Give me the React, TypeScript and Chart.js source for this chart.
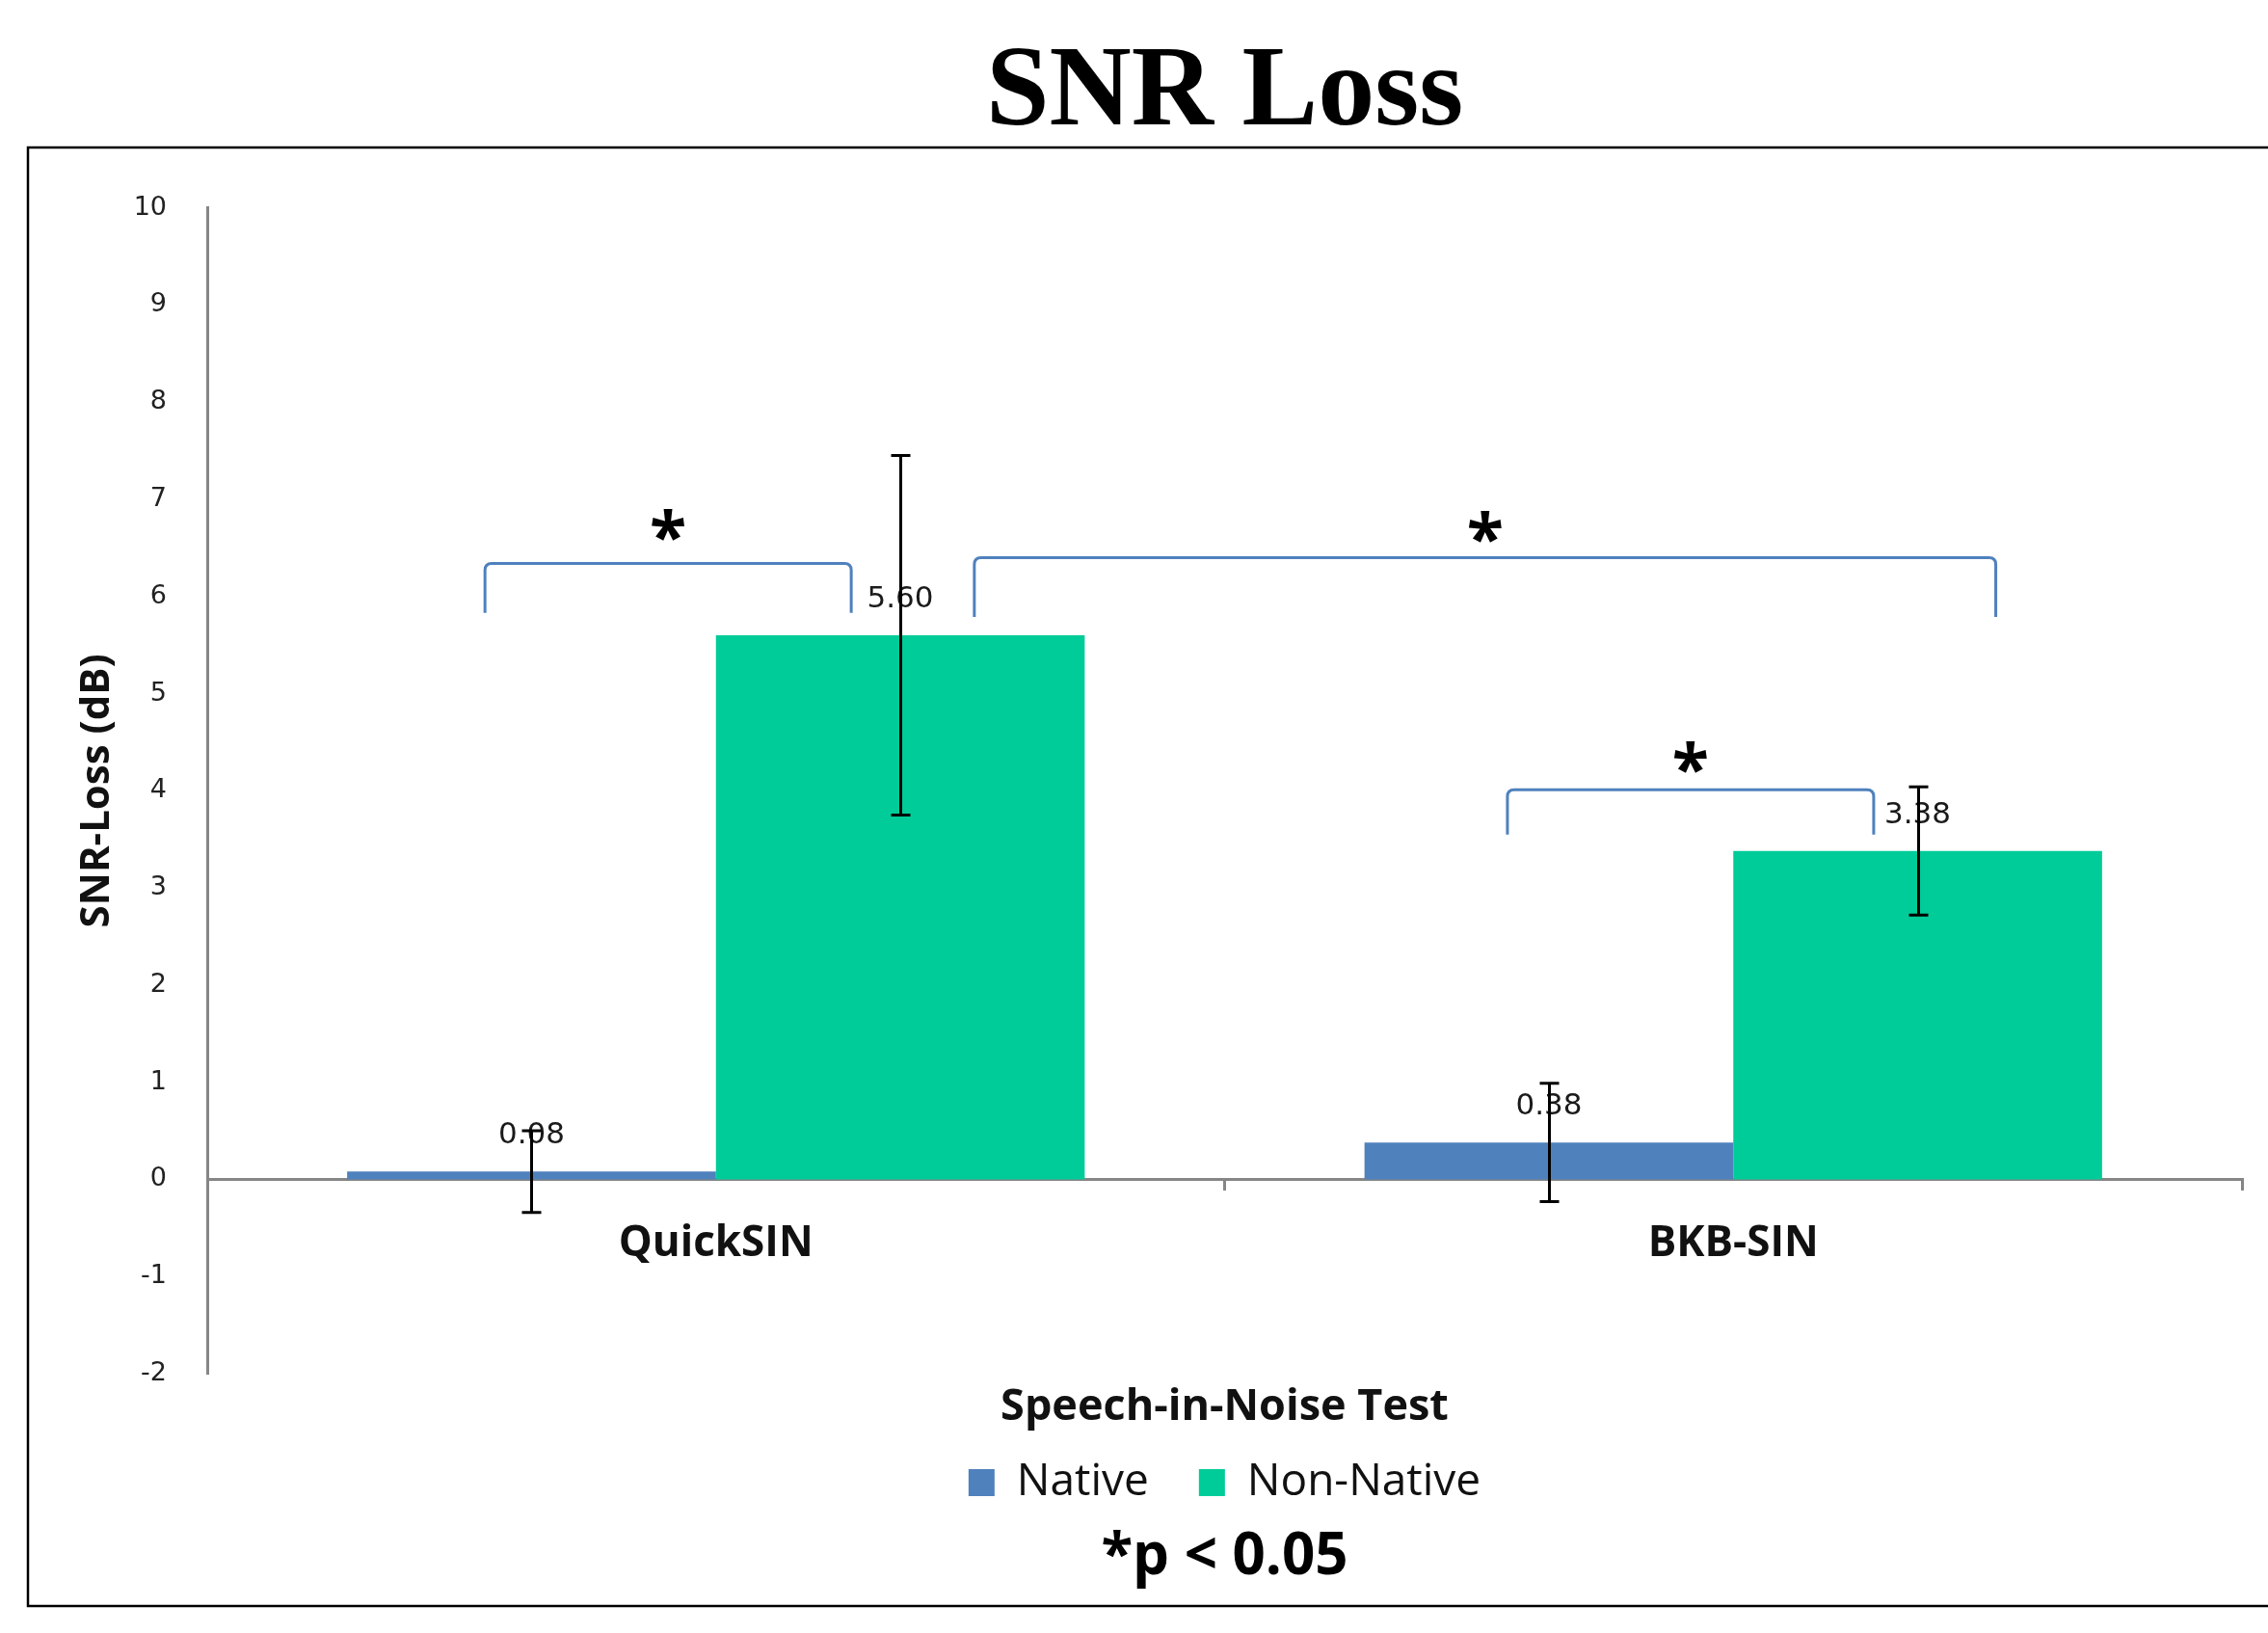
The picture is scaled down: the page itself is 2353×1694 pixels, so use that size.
import React, { useEffect, useRef } from 'react';
import { Chart, registerables } from 'chart.js';

Chart.register(...registerables);

// ---- data ----
const categories = ['QuickSIN', 'BKB-SIN'];
const seriesNames = ['Native', 'Non-Native'];
const nativeValues = [0.08, 0.38];
const nonNativeValues = [5.6, 3.38];
const nativeErrors = [0.42, 0.61];
const nonNativeErrors = [1.85, 0.66];
const yMin = -2;
const yMax = 10;
const yStep = 1;

// significance brackets, in data units (x = category index, y = dB)
const bracketFrom = [-0.227, 0.254, 0.778];
const bracketTo = [0.133, 1.258, 1.138];
const bracketTop = [6.34, 6.4, 4.01];
const bracketLegEnd = [5.83, 5.79, 3.55];
const starLevel = [6.74, 6.72, 4.35];

const chartTitle = 'SNR Loss';
const yTitle = 'SNR-Loss (dB)';
const xTitle = 'Speech-in-Noise Test';
const note = '*p < 0.05';

const NATIVE_COLOR = '#4F81BD';
const NON_NATIVE_COLOR = '#00CC99';
const AXIS_GRAY = '#868686';
const SANS = "'Open Sans', 'DejaVu Sans', sans-serif";

const overlayPlugin = {
  id: 'overlay',
  afterDatasetsDraw(chart: any) {
    const ctx = chart.ctx as CanvasRenderingContext2D;
    const ys = chart.scales.y;
    const xs = chart.scales.x;
    const errs = [nativeErrors, nonNativeErrors];

    // value labels
    chart.data.datasets.forEach((ds: any, di: number) => {
      const meta = chart.getDatasetMeta(di);
      meta.data.forEach((bar: any, i: number) => {
        const v = ds.data[i] as number;
        ctx.save();
        ctx.fillStyle = '#1a1a1a';
        ctx.font = "31px 'DejaVu Sans', sans-serif";
        ctx.textAlign = 'center';
        ctx.textBaseline = 'middle';
        ctx.fillText(v.toFixed(2), bar.x, bar.y - 37);
        ctx.restore();
      });
    });

    // error bars
    chart.data.datasets.forEach((ds: any, di: number) => {
      const meta = chart.getDatasetMeta(di);
      meta.data.forEach((bar: any, i: number) => {
        const v = ds.data[i] as number;
        const e = errs[di][i];
        const top = ys.getPixelForValue(v + e);
        const bot = ys.getPixelForValue(v - e);
        const px = Math.round(bar.x) + 0.5;
        ctx.save();
        ctx.strokeStyle = '#000';
        ctx.lineWidth = 3;
        ctx.beginPath();
        ctx.moveTo(px, top);
        ctx.lineTo(px, bot);
        ctx.moveTo(px - 10, top);
        ctx.lineTo(px + 10, top);
        ctx.moveTo(px - 10, bot);
        ctx.lineTo(px + 10, bot);
        ctx.stroke();
        ctx.restore();
      });
    });

    // significance brackets + stars
    for (let k = 0; k < bracketFrom.length; k++) {
      const x1 = xs.getPixelForValue(bracketFrom[k]);
      const x2 = xs.getPixelForValue(bracketTo[k]);
      const yt = ys.getPixelForValue(bracketTop[k]);
      const yl = ys.getPixelForValue(bracketLegEnd[k]);
      const r = 7;
      ctx.save();
      ctx.strokeStyle = NATIVE_COLOR;
      ctx.lineWidth = 3;
      ctx.beginPath();
      ctx.moveTo(x1, yl);
      ctx.lineTo(x1, yt + r);
      ctx.quadraticCurveTo(x1, yt, x1 + r, yt);
      ctx.lineTo(x2 - r, yt);
      ctx.quadraticCurveTo(x2, yt, x2, yt + r);
      ctx.lineTo(x2, yl);
      ctx.stroke();

      const sx = (x1 + x2) / 2;
      const sy = ys.getPixelForValue(starLevel[k]);
      ctx.fillStyle = '#000';
      ctx.font = `bold 70px ${SANS}`;
      ctx.textAlign = 'center';
      ctx.textBaseline = 'alphabetic';
      const m = ctx.measureText('*');
      const off = (m.actualBoundingBoxAscent - m.actualBoundingBoxDescent) / 2;
      ctx.fillText('*', sx, sy + off);
      ctx.restore();
    }
  },
  afterDraw(chart: any) {
    const ctx = chart.ctx as CanvasRenderingContext2D;
    ctx.save();
    ctx.strokeStyle = '#000';
    ctx.lineWidth = 2.5;
    ctx.strokeRect(29, 153, 2400, 1513);
    ctx.restore();
  },
};

export default function App() {
  const canvasRef = useRef<HTMLCanvasElement | null>(null);

  useEffect(() => {
    document.body.style.margin = '0';
    document.body.style.background = '#fff';
    const canvas = canvasRef.current;
    if (!canvas) return;
    const chart = new Chart(canvas, {
      type: 'bar',
      data: {
        labels: categories,
        datasets: [
          {
            label: seriesNames[0],
            data: nativeValues,
            backgroundColor: NATIVE_COLOR,
            borderWidth: 0,
            barPercentage: 1,
            categoryPercentage: 0.725,
          },
          {
            label: seriesNames[1],
            data: nonNativeValues,
            backgroundColor: NON_NATIVE_COLOR,
            borderWidth: 0,
            barPercentage: 1,
            categoryPercentage: 0.725,
          },
        ],
      },
      options: {
        responsive: false,
        animation: false,
        devicePixelRatio: 1,
        events: [],
        layout: { padding: { left: 0, right: 27, top: 0, bottom: 0 } },
        scales: {
          x: {
            type: 'category',
            position: { y: 0 } as any,
            offset: true,
            grid: {
              display: true,
              drawOnChartArea: false,
              drawTicks: true,
              tickLength: 10,
              color: AXIS_GRAY,
              lineWidth: 3,
              offset: true,
            },
            border: { display: true, color: AXIS_GRAY, width: 3 },
            ticks: {
              font: { family: SANS, size: 44, weight: 'bold' },
              color: '#111',
              padding: 31,
            },
          },
          xTitleAxis: {
            type: 'category',
            axis: 'x',
            position: 'bottom',
            display: true,
            grid: { display: false },
            border: { display: false },
            ticks: { display: false },
            title: {
              display: true,
              text: xTitle,
              font: { family: SANS, size: 45, weight: 'bold' },
              color: '#111',
              padding: { top: 0, bottom: -24 },
            },
          } as any,
          y: {
            type: 'linear',
            position: 'left',
            min: yMin,
            max: yMax,
            afterFit: (scale: any) => {
              scale.width = 215;
            },
            ticks: {
              stepSize: yStep,
              font: { family: "'DejaVu Sans', sans-serif", size: 27 },
              color: '#222',
              padding: 34,
            },
            grid: { display: false },
            border: { display: true, color: AXIS_GRAY, width: 3 },
            title: {
              display: true,
              text: yTitle,
              font: { family: SANS, size: 42, weight: 'bold' },
              color: '#111',
              padding: { top: 76, bottom: 18 },
            },
          },
        },
        plugins: {
          title: {
            display: true,
            text: chartTitle,
            position: 'top',
            fullSize: false,
            font: { family: "'Liberation Serif', serif", size: 118, weight: 'bold' },
            color: '#000',
            padding: { top: 28, bottom: 46 },
          },
          subtitle: {
            display: true,
            text: note,
            position: 'bottom',
            fullSize: false,
            font: { family: SANS, size: 60, weight: 'bold' },
            color: '#000',
            padding: { top: 9, bottom: 42 },
          },
          legend: {
            display: true,
            position: 'bottom',
            fullSize: false,
            labels: {
              font: { family: SANS, size: 46 },
              color: '#111',
              boxWidth: 27,
              boxHeight: 28,
              padding: 52,
            },
          },
          tooltip: { enabled: false },
        },
      } as any,
      plugins: [overlayPlugin],
    });
    return () => chart.destroy();
  }, []);

  return (
    <canvas
      ref={canvasRef}
      width={2353}
      height={1694}
      style={{ position: 'absolute', left: 0, top: 0, width: 2353, height: 1694, display: 'block' }}
    />
  );
}
